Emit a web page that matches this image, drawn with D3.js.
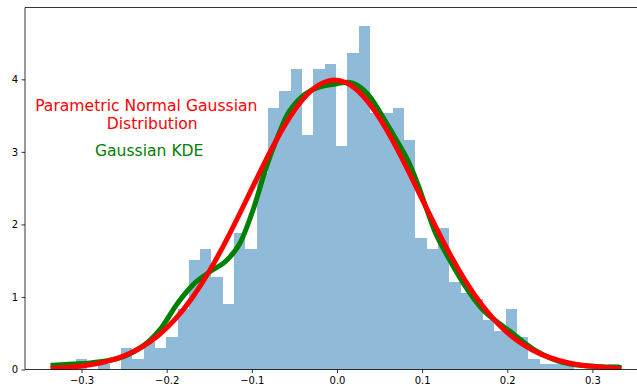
<!DOCTYPE html>
<html>
<head>
<meta charset="utf-8">
<script src="https://cdn.jsdelivr.net/npm/d3@7"></script>
<style>
  html, body { margin: 0; padding: 0; background: #fff; }
  svg { display: block; font-family: "DejaVu Sans", sans-serif; }
</style>
</head>
<body>
<svg id="chart" width="637" height="389"></svg>
<script>
// Histogram: 50 equal bins spanning the sample range, heights as densities
const binStart = -0.3335;
const binEnd = 0.3312;
const binDensity = [
  0.075, 0, 0.150, 0, 0.075, 0, 0.301, 0.150, 0.376, 0.301,
  0.451, 0.828, 1.505, 1.655, 1.279, 0.903, 1.881, 1.655, 2.708, 3.611,
  3.837, 4.138, 3.235, 4.138, 4.213, 3.084, 4.363, 4.740, 3.536, 3.536,
  3.611, 3.160, 1.806, 1.655, 1.956, 1.204, 1.053, 0.978, 0.677, 0.527,
  0.828, 0.451, 0.150, 0.075, 0.075, 0.075, 0, 0, 0, 0.075
];

// Fitted normal density (red)
const normalX = [-0.3335, -0.31, -0.29, -0.27, -0.25, -0.23, -0.21, -0.19, -0.17, -0.15,
  -0.13, -0.11, -0.09, -0.07, -0.05, -0.03, -0.01, 0.01, 0.03, 0.05,
  0.07, 0.09, 0.11, 0.13, 0.15, 0.17, 0.19, 0.21, 0.23, 0.25,
  0.27, 0.29, 0.3312];
const normalY = [0.0169, 0.0358, 0.0649, 0.1129, 0.1888, 0.3034, 0.4681, 0.6941, 0.9892, 1.3540,
  1.7808, 2.2503, 2.7320, 3.1869, 3.5719, 3.8462, 3.9792, 3.9554, 3.7776, 3.4663,
  3.0560, 2.5885, 2.1067, 1.6473, 1.2375, 0.8932, 0.6195, 0.4127, 0.2643, 0.1625,
  0.0961, 0.0545, 0.0150];

// Kernel density estimate (green)
const kdeX = [-0.3335, -0.31, -0.29, -0.27, -0.25, -0.235, -0.22, -0.206, -0.188, -0.168,
  -0.149, -0.13, -0.114, -0.098, -0.083, -0.07, -0.059, -0.045, -0.03, -0.015,
  0.0, 0.012, 0.025, 0.04, 0.055, 0.07, 0.085, 0.095, 0.105, 0.115,
  0.13, 0.15, 0.17, 0.19, 0.205, 0.22, 0.235, 0.25, 0.265, 0.285,
  0.305, 0.3312];
const kdeY = [0.06, 0.075, 0.09, 0.12, 0.18, 0.27, 0.40, 0.58, 0.90, 1.18,
  1.35, 1.50, 1.74, 2.22, 2.79, 3.20, 3.50, 3.72, 3.85, 3.91,
  3.94, 3.96, 3.91, 3.74, 3.46, 3.16, 2.84, 2.55, 2.22, 1.90,
  1.56, 1.16, 0.84, 0.64, 0.51, 0.37, 0.25, 0.16, 0.10, 0.058,
  0.042, 0.03];

const xTicks = [-0.3, -0.2, -0.1, 0.0, 0.1, 0.2, 0.3];
const xTickLabels = ["\u22120.3", "\u22120.2", "\u22120.1", "0.0", "0.1", "0.2", "0.3"];
const yTicks = [0, 1, 2, 3, 4];
const yTickLabels = ["0", "1", "2", "3", "4"];

const labelNormal = ["Parametric Normal Gaussian", "Distribution"];
const labelKde = "Gaussian KDE";

// Layout
const W = 637, H = 389;
const plot = { left: 25, right: 647, top: 7.5, bottom: 369.5 };

const x = d3.scaleLinear().domain([-0.3664, 0.3641]).range([plot.left, plot.right]);
const y = d3.scaleLinear().domain([0, 4.99]).range([plot.bottom, plot.top]);

const svg = d3.select("#chart");
svg.append("rect").attr("width", W).attr("height", H).attr("fill", "#fff");

svg.append("clipPath").attr("id", "plotclip")
  .append("rect")
  .attr("x", plot.left).attr("y", plot.top)
  .attr("width", plot.right - plot.left).attr("height", plot.bottom - plot.top);

const g = svg.append("g").attr("clip-path", "url(#plotclip)");

// Bars
const binWidth = (binEnd - binStart) / binDensity.length;
const bins = binDensity.map((d, i) => ({ x0: binStart + i * binWidth, x1: binStart + (i + 1) * binWidth, d }));
g.append("g")
  .selectAll("rect")
  .data(bins.filter(b => b.d > 0))
  .join("rect")
  .attr("x", b => x(b.x0))
  .attr("width", b => x(b.x1) - x(b.x0))
  .attr("y", b => y(b.d))
  .attr("height", b => y(0) - y(b.d))
  .attr("fill", "#1f77b4")
  .attr("fill-opacity", 0.5)
  .attr("shape-rendering", "crispEdges");

// Curves
const kdeLine = d3.line().x(p => x(p[0])).y(p => y(p[1])).curve(d3.curveMonotoneX);
const normLine = d3.line().x(p => x(p[0])).y(p => y(p[1])).curve(d3.curveNatural);

g.append("path")
  .datum(d3.zip(kdeX, kdeY))
  .attr("d", kdeLine)
  .attr("fill", "none")
  .attr("stroke", "green")
  .attr("stroke-width", 5)
  .attr("stroke-linecap", "square")
  .attr("stroke-linejoin", "round");

g.append("path")
  .datum(d3.zip(normalX, normalY))
  .attr("d", normLine)
  .attr("fill", "none")
  .attr("stroke", "red")
  .attr("stroke-width", 5)
  .attr("stroke-linecap", "square")
  .attr("stroke-linejoin", "round");

// Spines
const spine = svg.append("g").attr("stroke", "#000").attr("stroke-width", 0.8).attr("fill", "none");
spine.append("line").attr("x1", plot.left).attr("x2", plot.left).attr("y1", plot.top).attr("y2", plot.bottom);
spine.append("line").attr("x1", plot.left).attr("x2", plot.right).attr("y1", plot.top).attr("y2", plot.top);
spine.append("line").attr("x1", plot.left).attr("x2", plot.right).attr("y1", plot.bottom).attr("y2", plot.bottom);
spine.append("line").attr("x1", plot.right).attr("x2", plot.right).attr("y1", plot.top).attr("y2", plot.bottom);

// Axes
const xAxis = d3.axisBottom(x).tickValues(xTicks)
  .tickFormat((d, i) => xTickLabels[i]).tickSize(3.5).tickPadding(3.5);
const yAxis = d3.axisLeft(y).tickValues(yTicks)
  .tickFormat((d, i) => yTickLabels[i]).tickSize(3.5).tickPadding(3.5);

const gx = svg.append("g").attr("transform", `translate(0,${plot.bottom})`).call(xAxis);
const gy = svg.append("g").attr("transform", `translate(${plot.left},0)`).call(yAxis);
[gx, gy].forEach(a => {
  a.select(".domain").remove();
  a.selectAll(".tick line").attr("stroke", "#000").attr("stroke-width", 0.8);
  a.selectAll(".tick text")
    .attr("fill", "#000")
    .style("font-family", "'DejaVu Sans', sans-serif")
    .style("font-size", "10px");
});

// Annotations
svg.append("text")
  .attr("x", 146.3).attr("y", 110.7)
  .attr("text-anchor", "middle")
  .attr("fill", "red")
  .style("font-size", "15.6px")
  .text(labelNormal[0]);
svg.append("text")
  .attr("x", 152.2).attr("y", 129)
  .attr("text-anchor", "middle")
  .attr("fill", "red")
  .style("font-size", "15.6px")
  .text(labelNormal[1]);
svg.append("text")
  .attr("x", 149.2).attr("y", 155.7)
  .attr("text-anchor", "middle")
  .attr("fill", "green")
  .style("font-size", "15.6px")
  .text(labelKde);
</script>
</body>
</html>
